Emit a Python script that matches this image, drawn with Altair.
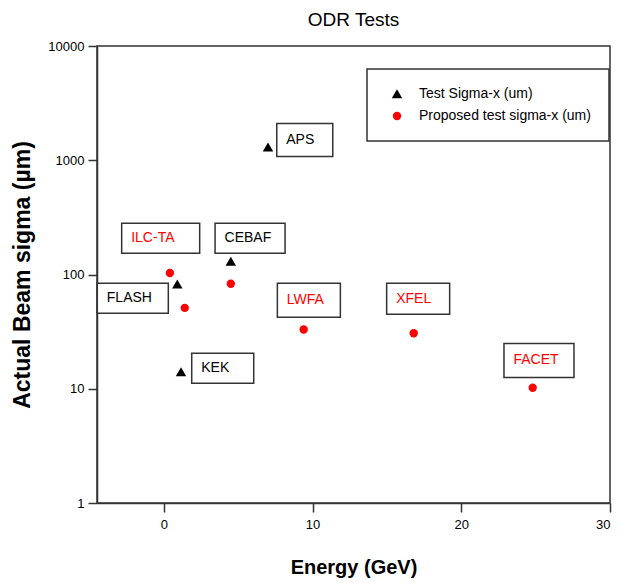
import altair as alt
import pandas as pd

# ---- data ----
series_test = "Test Sigma-x (um)"
series_prop = "Proposed test sigma-x (um)"

test_energy = [0.9, 4.5, 7.0, 1.15]
test_sigma = [82, 130, 1300, 14]

prop_energy = [0.4, 1.4, 4.5, 9.4, 16.8, 24.8]
prop_sigma = [103, 51, 83, 33, 30.6, 10.2]

label_names = ["APS", "CEBAF", "ILC-TA", "FLASH", "KEK", "LWFA", "XFEL", "FACET"]
label_colors = ["black", "black", "red", "black", "black", "red", "red", "red"]
# annotation anchors (left edge of each label box, in data units)
label_energy = [7.59, 3.44, -2.84, -4.48, 1.87, 7.63, 14.98, 22.87]
label_sigma = [1504, 207.5, 207.5, 61.9, 15.1, 59.4, 61.3, 17.7]

x_ticks = [0, 10, 20, 30]
y_ticks = [1, 10, 100, 1000, 10000]

# ---- layout / style ----
box_w = [56, 70, 78, 71, 62, 63, 63, 70]
box_h = [33, 30, 30, 30, 30, 34, 31, 34]
SANS = "Liberation Sans, Arial"
TRIANGLE = "M0,-1.15 L1.25,1 L-1.25,1 Z"

pts = pd.DataFrame({
    "energy": test_energy + prop_energy,
    "sigma": test_sigma + prop_sigma,
    "series": [series_test] * len(test_energy) + [series_prop] * len(prop_energy),
})

labels = pd.DataFrame({
    "name": label_names,
    "color": label_colors,
    "energy": label_energy,
    "sigma": label_sigma,
    "box": [f"M0,{-h/2} L{w},{-h/2} L{w},{h/2} L0,{h/2} Z" for w, h in zip(box_w, box_h)],
})

xscale = alt.Scale(domain=[-4.5, 30], nice=False, zero=False)
yscale = alt.Scale(type="log", domain=[1, 10000], nice=False)

xax = alt.Axis(values=x_ticks, title="Energy (GeV)", grid=False, format="d")
yax = alt.Axis(values=y_ticks, title="Actual Beam sigma (µm)", grid=False, format="d")

boxes = alt.Chart(labels).mark_point(
    filled=True, color="white", stroke="#333333", strokeWidth=1.5, opacity=1, size=4
).encode(
    x=alt.X("energy:Q", scale=xscale, axis=xax),
    y=alt.Y("sigma:Q", scale=yscale, axis=yax),
    shape=alt.Shape("box:N", scale=None, legend=None),
)

texts = alt.Chart(labels).mark_text(
    align="left", baseline="middle", dx=9.5, font=SANS, fontSize=14
).encode(
    x=alt.X("energy:Q", scale=xscale),
    y=alt.Y("sigma:Q", scale=yscale),
    text="name:N",
    color=alt.Color("color:N", scale=None, legend=None),
)

leg = alt.Legend(title=None, orient="none", legendX=270, legendY=23)
points = alt.Chart(pts).mark_point(filled=True, size=70, opacity=1).encode(
    x=alt.X("energy:Q", scale=xscale),
    y=alt.Y("sigma:Q", scale=yscale),
    color=alt.Color("series:N",
                    scale=alt.Scale(domain=[series_test, series_prop], range=["black", "red"]),
                    legend=leg),
    shape=alt.Shape("series:N",
                    scale=alt.Scale(domain=[series_test, series_prop], range=[TRIANGLE, "circle"]),
                    legend=leg),
)

chart = alt.layer(boxes, texts, points).resolve_scale(
    color="independent", shape="independent"
).properties(
    width=513, height=457,
    title=alt.TitleParams("ODR Tests", font=SANS, fontSize=19, fontWeight="normal",
                          color="black", offset=10),
    autosize=alt.AutoSizeParams(type="none"),
    padding={"left": 89, "top": 38, "right": 4, "bottom": 78},
).configure_view(
    stroke="#333333", strokeWidth=1.5
).configure_axis(
    domainColor="#333333", domainWidth=1.5, tickColor="#333333", tickWidth=1.5,
    tickSize=9, labelFont=SANS, labelFontSize=13, labelColor="black",
    titleFont=SANS, titleFontWeight="bold", titleColor="black",
).configure_axisX(
    labelPadding=6, titleFontSize=20, titlePadding=26,
).configure_axisY(
    labelPadding=4, titleFontSize=23, titlePadding=13,
).configure_legend(
    strokeColor="#333333", strokeWidth=1.5, fillColor="white", padding=18,
    symbolOffset=5, labelOffset=15, rowPadding=8, labelFont=SANS, labelFontSize=14,
    labelColor="black", symbolSize=70, symbolStrokeWidth=0, labelLimit=400,
)

chart.save("out.html", embed_options={"renderer": "svg", "actions": False})
